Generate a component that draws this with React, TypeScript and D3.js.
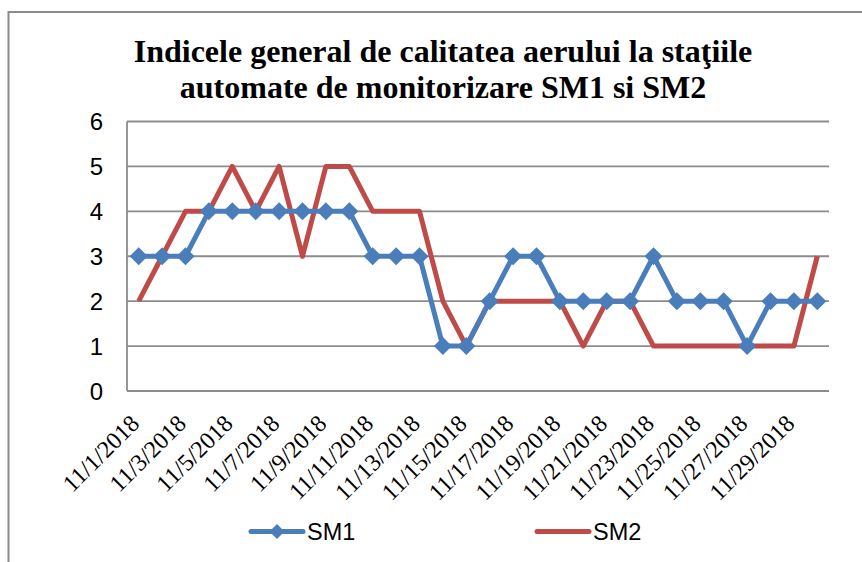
import React from "react";
import * as d3 from "d3";

const days: string[] = Array.from({ length: 30 }, (_, i) => `11/${i + 1}/2018`);
const sm1: number[] = [3, 3, 3, 4, 4, 4, 4, 4, 4, 4, 3, 3, 3, 1, 1, 2, 3, 3, 2, 2, 2, 2, 3, 2, 2, 2, 1, 2, 2, 2];
const sm2: number[] = [2, 3, 4, 4, 5, 4, 5, 3, 5, 5, 4, 4, 4, 2, 1, 2, 2, 2, 2, 1, 2, 2, 1, 1, 1, 1, 1, 1, 1, 3];
const tickLabels: string[] = days.filter((_, i) => i % 2 === 0);
const yTicks: number[] = [0, 1, 2, 3, 4, 5, 6];
const titleLines: string[] = [
  "Indicele general de calitatea aerului la staţiile",
  "automate de monitorizare SM1 si SM2",
];
const seriesNames = ["SM1", "SM2"];

const W = 862;
const H = 562;
const left = 127;
const right = 829;
const top = 121.5;
const bottom = 391;
const blue = "#4a7ebb";
const red = "#be4b48";
const grid = "#8c8c8c";

export default function App() {
  const x = d3.scaleBand<string>().domain(days).range([left, right]);
  const cx = (d: string) => (x(d) ?? 0) + x.bandwidth() / 2;
  const y = d3.scaleLinear().domain([0, 6]).range([bottom, top]);
  const line = d3
    .line<number>()
    .x((_, i) => cx(days[i]))
    .y((v) => y(v));
  const diamond = (px: number, py: number, r: number) =>
    `M${px},${py - r}L${px + r},${py}L${px},${py + r}L${px - r},${py}Z`;

  return (
    <svg
      width={W}
      height={H}
      style={{ position: "absolute", left: 0, top: 0, background: "#fff" }}
    >
      <rect x={8.5} y={12} width={W + 10} height={H + 10} fill="#fff" stroke="#8a8a8a" strokeWidth={2} />
      {titleLines.map((t, i) => (
        <text
          key={i}
          x={443}
          y={62 + i * 36}
          textAnchor="middle"
          fontFamily="'Liberation Serif', 'Times New Roman', serif"
          fontWeight="bold"
          fontSize={32}
          fill="#000"
        >
          {t}
        </text>
      ))}
      {yTicks.map((t) => (
        <g key={t}>
          <line x1={left} x2={right} y1={y(t)} y2={y(t)} stroke={grid} strokeWidth={1.8} />
          <text
            x={103}
            y={y(t)}
            dy="0.36em"
            textAnchor="end"
            fontFamily="'Liberation Sans', sans-serif"
            fontSize={24}
            fill="#000"
          >
            {t}
          </text>
        </g>
      ))}
      <line x1={left} x2={left} y1={top} y2={bottom} stroke={grid} strokeWidth={1.8} />
      {tickLabels.map((lab) => (
        <text
          key={lab}
          transform={`translate(${cx(lab) + 2},${bottom + 34}) rotate(-45)`}
          textAnchor="end"
          fontFamily="'Liberation Serif', 'Times New Roman', serif"
          fontSize={24}
          fill="#000"
        >
          {lab}
        </text>
      ))}
      <path d={line(sm2) ?? ""} fill="none" stroke={red} strokeWidth={5} strokeLinejoin="round" />
      <path d={line(sm1) ?? ""} fill="none" stroke={blue} strokeWidth={5} strokeLinejoin="round" />
      {sm1.map((v, i) => (
        <path key={i} d={diamond(cx(days[i]), y(v), 9)} fill={blue} />
      ))}
      <g>
        <line x1={251} x2={303} y1={531.5} y2={531.5} stroke={blue} strokeWidth={5} strokeLinecap="round" />
        <path d={diamond(277, 531.5, 7.5)} fill={blue} />
        <text x={307} y={531.5} dy="0.36em" fontFamily="'Liberation Sans', sans-serif" fontSize={23.5} fill="#000">
          {seriesNames[0]}
        </text>
        <line x1={537} x2={589} y1={531.5} y2={531.5} stroke={red} strokeWidth={5} strokeLinecap="round" />
        <text x={593} y={531.5} dy="0.36em" fontFamily="'Liberation Sans', sans-serif" fontSize={23.5} fill="#000">
          {seriesNames[1]}
        </text>
      </g>
    </svg>
  );
}
